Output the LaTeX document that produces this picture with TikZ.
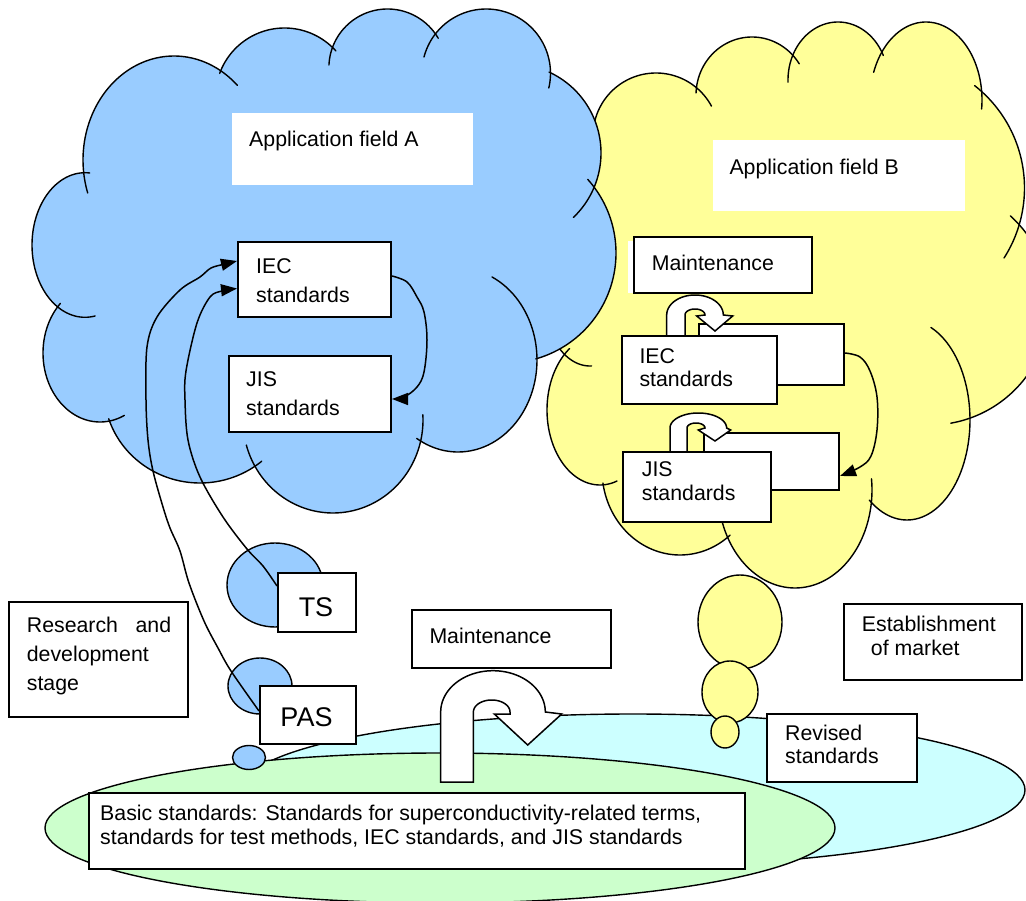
\documentclass[tikz,border=0pt]{standalone}
\usepackage{fontspec}
\setmainfont{Liberation Sans}
\usetikzlibrary{arrows.meta,calc}
\definecolor{cloudA}{HTML}{99CCFF}
\definecolor{cloudB}{HTML}{FFFF99}
\definecolor{ellC}{HTML}{CCFFFF}
\definecolor{ellG}{HTML}{CCFFCC}
\newcommand\fnorm{\fontsize{21.3}{23.3}\selectfont}
\newcommand\fbig{\fontsize{27}{30}\selectfont}
\newcommand\bumparc[6]{\draw[cloudline] plot[domain=#5:#6,samples=70,variable=\ang] ({#1+#3*cos(\ang)},{#2+#4*sin(\ang)});}
\newcommand\bumpfill[5]{\fill[#5] (#1,#2) ellipse [x radius=#3, y radius=#4];}
\newcommand\mkbox[6]{\node[#6, minimum width={#4-#2}, minimum height={#5-#3}] (#1) at ({(#2+#4)/2},{(#3+#5)/2}) {};}
\newcommand\tline[4]{\node[txt] (#1) at (#2,#3) {#4};}
\begin{document}
\begin{tikzpicture}[x=1pt,y=-1pt,
  cloudline/.style={line width=1.4pt, line cap=round},
  box/.style={draw=black, line width=2pt, fill=white, inner sep=0pt},
  plainbox/.style={fill=white, inner sep=0pt},
  txt/.style={anchor=base west, inner sep=0pt, font=\fnorm},
  conn/.style={line width=1.5pt, -{Triangle[length=16pt,width=12pt]}},
  uturn/.style={draw=black, fill=white, line width=1.5pt, line join=miter},
  blob/.style={draw=black, line width=1.4pt}]
\path[use as bounding box] (0,0) rectangle (1026,901);
\clip (0,0) rectangle (1026,901);

% ---- base ellipses ----
\draw[blob, fill=ellC] (633,790) ellipse [x radius=392, y radius=76];
\draw[blob, fill=ellG] (440,828) ellipse [x radius=395, y radius=75];

% ---- yellow cloud (application field B) ----
\fill[cloudB] (580,130) -- (656,136) -- (752,95) -- (838,80) -- (926,100) -- (894.5,188) -- (930,305) -- (907,420) -- (795,490) -- (680,470) -- (600,410) -- (590,300) -- (570,300) -- cycle;
\bumpfill{656}{136}{63}{63}{cloudB}
\bumpfill{752}{95}{56}{58}{cloudB}
\bumpfill{838}{80}{50}{58}{cloudB}
\bumpfill{926}{100}{56}{78}{cloudB}
\bumpfill{894.5}{188}{130}{130}{cloudB}
\bumpfill{930}{305}{120}{120}{cloudB}
\bumpfill{907}{420}{63}{100}{cloudB}
\bumpfill{795}{490}{77}{98}{cloudB}
\bumpfill{680}{470}{78}{85}{cloudB}
\bumpfill{600}{410}{53}{75}{cloudB}
\bumpfill{590}{300}{45}{66}{cloudB}
\bumparc{656}{136}{63}{63}{185}{331.7}
\bumparc{752}{95}{56}{58}{182}{327.5}
\bumparc{838}{80}{50}{58}{177.9}{335}
\bumparc{926}{100}{56}{78}{200.8}{366.6}
\bumparc{894.5}{188}{130}{130}{308}{392.6}
\bumparc{930}{305}{120}{120}{312}{440}
\bumparc{907}{420}{63}{100}{292.3}{486.8}
\bumparc{795}{490}{77}{98}{-6.6}{160.2}
\bumparc{680}{470}{78}{85}{50}{171.2}
\bumparc{600}{410}{53}{75}{71.3}{235}
\bumparc{590}{300}{45}{66}{88}{180}

% ---- blue cloud (application field A) ----
\fill[cloudA] (174,160) -- (284.5,97) -- (387.5,67.6) -- (486,73) -- (512,153) -- (506,253) -- (458,360) -- (333,420) -- (200,390) -- (100,353) -- (85,245) -- cycle;
\bumpfill{174}{160}{91}{104}{cloudA}
\bumpfill{284.5}{97}{69}{69}{cloudA}
\bumpfill{387.5}{67.6}{58.6}{58.6}{cloudA}
\bumpfill{486.2}{73.3}{64.3}{64.3}{cloudA}
\bumpfill{512}{153}{89}{89}{cloudA}
\bumpfill{506}{253}{110}{110}{cloudA}
\bumpfill{458}{360}{79}{92}{cloudA}
\bumpfill{333}{420}{90}{93}{cloudA}
\bumpfill{200}{390}{96}{93}{cloudA}
\bumpfill{100}{353}{57}{69}{cloudA}
\bumpfill{85}{245}{53}{72.3}{cloudA}
\bumparc{174}{160}{91}{104}{161.5}{314.2}
\bumparc{284.5}{97}{69}{69}{200}{318}
\bumparc{387.5}{67.6}{58.6}{58.6}{182.5}{330}
\bumparc{486.2}{73.3}{64.3}{64.3}{194.7}{373.2}
\bumparc{512}{153}{89}{89}{294.6}{406.3}
\bumparc{506}{253}{110}{110}{318}{434.3}
\bumparc{458}{360}{79}{92}{295.5}{481.5}
\bumparc{333}{420}{90}{93}{-3.2}{164.4}
\bumparc{200}{390}{96}{93}{50}{162}
\bumparc{100}{353}{57}{69}{64.7}{226}
\bumparc{85}{245}{53}{72.3}{79}{275}

% ---- small bubbles ----
\draw[blob, fill=cloudA] (275,585) ellipse [x radius=48, y radius=42];
\draw[blob, fill=cloudA] (260,686) ellipse [x radius=32, y radius=28];
\draw[blob, fill=cloudA] (249,757.5) ellipse [x radius=16.5, y radius=12];
\draw[blob, fill=cloudB] (740,622) ellipse [x radius=42, y radius=47];
\draw[blob, fill=cloudB] (730,692) ellipse [x radius=28, y radius=31];
\draw[blob, fill=cloudB] (725,732) ellipse [x radius=14, y radius=16];

% ---- boxes ----
\mkbox{appA}{232}{113}{473}{185}{plainbox}
\mkbox{appB}{713}{140}{965}{211}{plainbox}
\fill[white] (628,241) rectangle (634,293);
\mkbox{maintR}{634}{237}{812}{293}{box}
\mkbox{iecRback}{699}{324}{844}{385}{box}
\mkbox{jisRback}{704}{433}{839}{490}{box}

% small maintenance U-turn arrows (right cloud)
\draw[uturn] (666.7,345) -- (666.7,315)
  -- plot[domain=180:360,samples=40,variable=\ang] ({695+28.3*cos(\ang)},{315+20*sin(\ang)})
  -- (732.7,316) -- (715,331) -- (696.7,316) -- (705,315)
  -- plot[domain=0:180,samples=30,variable=\ang] ({695+10*cos(\ang)},{315-6*sin(\ang)})
  -- (685,345) -- cycle;
\draw[uturn] (670,460) -- (670,428)
  -- plot[domain=180:360,samples=40,variable=\ang] ({698.3+28.3*cos(\ang)},{428+15*sin(\ang)})
  -- (730.7,430) -- (715,441) -- (698.3,430) -- (705,428)
  -- plot[domain=0:180,samples=30,variable=\ang] ({696+9*cos(\ang)},{428-5*sin(\ang)})
  -- (687,460) -- cycle;

\mkbox{iecR}{622}{336}{777}{404}{box}
\mkbox{jisR}{623}{452}{771}{522}{box}
\mkbox{iecA}{238}{242}{391}{317}{box}
\mkbox{jisA}{229}{356}{391}{432}{box}
\mkbox{ts}{278}{573}{356}{632}{box}
\mkbox{pas}{260}{686}{356}{744}{box}
\mkbox{research}{9}{602}{188}{717}{box}
\mkbox{maintB}{412}{610}{611}{668}{box}
\mkbox{estab}{844}{604}{1022}{680}{box}
\mkbox{revised}{767}{714}{917}{782}{box}
\mkbox{basic}{89}{793}{745}{869}{box}

% big maintenance U-turn arrow
\draw[uturn] (440.7,782) -- (440.7,712)
  -- plot[domain=180:360,samples=60,variable=\ang] ({493+52.3*cos(\ang)},{712+41.3*sin(\ang)})
  -- (561.7,714) -- (527.7,745) -- (494.3,714) -- (510,714)
  -- plot[domain=0:180,samples=40,variable=\ang] ({491.7+18.3*cos(\ang)},{712-12*sin(\ang)})
  -- (473.4,782) -- cycle;

% ---- texts ----
\tline{tAppA}{249}{146.5}{Application field A}
\tline{tAppB}{729.3}{174.8}{Application field B}
\tline{tMaintR}{651.7}{270.7}{Maintenance}
\tline{tIecA1}{256}{274}{IEC}
\tline{tIecA2}{256}{302.7}{standards}
\tline{tJisA1}{246}{386.7}{JIS}
\tline{tJisA2}{246}{416}{standards}
\tline{tIecR1}{639.3}{363.3}{IEC}
\tline{tIecR2}{639.3}{386.7}{standards}
\tline{tJisR1}{641.7}{476.7}{JIS}
\tline{tJisR2}{641.7}{500}{standards}
\node[anchor=base, inner sep=0pt, font=\fbig] (tTs) at (316,616) {TS};
\node[anchor=base, inner sep=0pt, font=\fbig] (tPas) at (306.5,726.7) {PAS};
\tline{tRes1}{26.7}{632.7}{\makebox[144.3pt][s]{Research and}}
\tline{tRes2}{26.7}{661.7}{development}
\tline{tRes3}{26.7}{690.7}{stage}
\tline{tMaintB}{429.3}{643.3}{Maintenance}
\tline{tEst1}{861.7}{631.7}{Establishment}
\tline{tEst2}{870.7}{655}{of market}
\tline{tRev1}{785}{740}{Revised}
\tline{tRev2}{785}{763.3}{standards}
\tline{tBas1}{100}{820.7}{Basic standards: Standards for superconductivity-related terms,}
\tline{tBas2}{100}{844}{standards for test methods, IEC standards, and JIS standards}

% ---- connectors ----
\coordinate (pasStart) at ($(pas.north west)+(0,26)$);
\coordinate (tsStart) at ($(ts.north west)+(0,14)$);
\coordinate (iecUp) at ($(iecA.north west)+(0,20)$);
\coordinate (iecLow) at ($(iecA.north west)+(0,47.5)$);
\coordinate (iecOut) at ($(iecA.north east)+(0,35)$);
\coordinate (jisIn) at ($(jisA.north east)+(0,44)$);
\coordinate (iecROut) at ($(iecRback.north east)+(0,30)$);
\coordinate (jisRIn) at ($(jisRback.north east)+(0,44)$);

\draw[conn] plot[smooth,tension=0.55] coordinates {(pasStart) (231,671) (218,648) (204,621) (189,583) (180,551) (170,528) (163,507) (153,471) (148,440) (146,400) (147,347) (157,317) (180,290) (200,277) (211,268) (225,264) (iecUp)};
\draw[conn] plot[smooth,tension=0.55] coordinates {(tsStart) (263,566) (247,549) (223,517) (200,477) (188,440) (185,400) (186,371) (197,323) (210,297) (222,291) (iecLow)};
\draw[conn] plot[smooth,tension=0.6] coordinates {(iecOut) (407,282) (417,297) (424,312) (427,340) (424,372) (417,387) (404,397) (jisIn)};
\draw[conn] plot[smooth,tension=0.6] coordinates {(iecROut) (860,357) (870,371) (877,397) (877,430) (871,456) (860,467) (jisRIn)};
\end{tikzpicture}
\end{document}
